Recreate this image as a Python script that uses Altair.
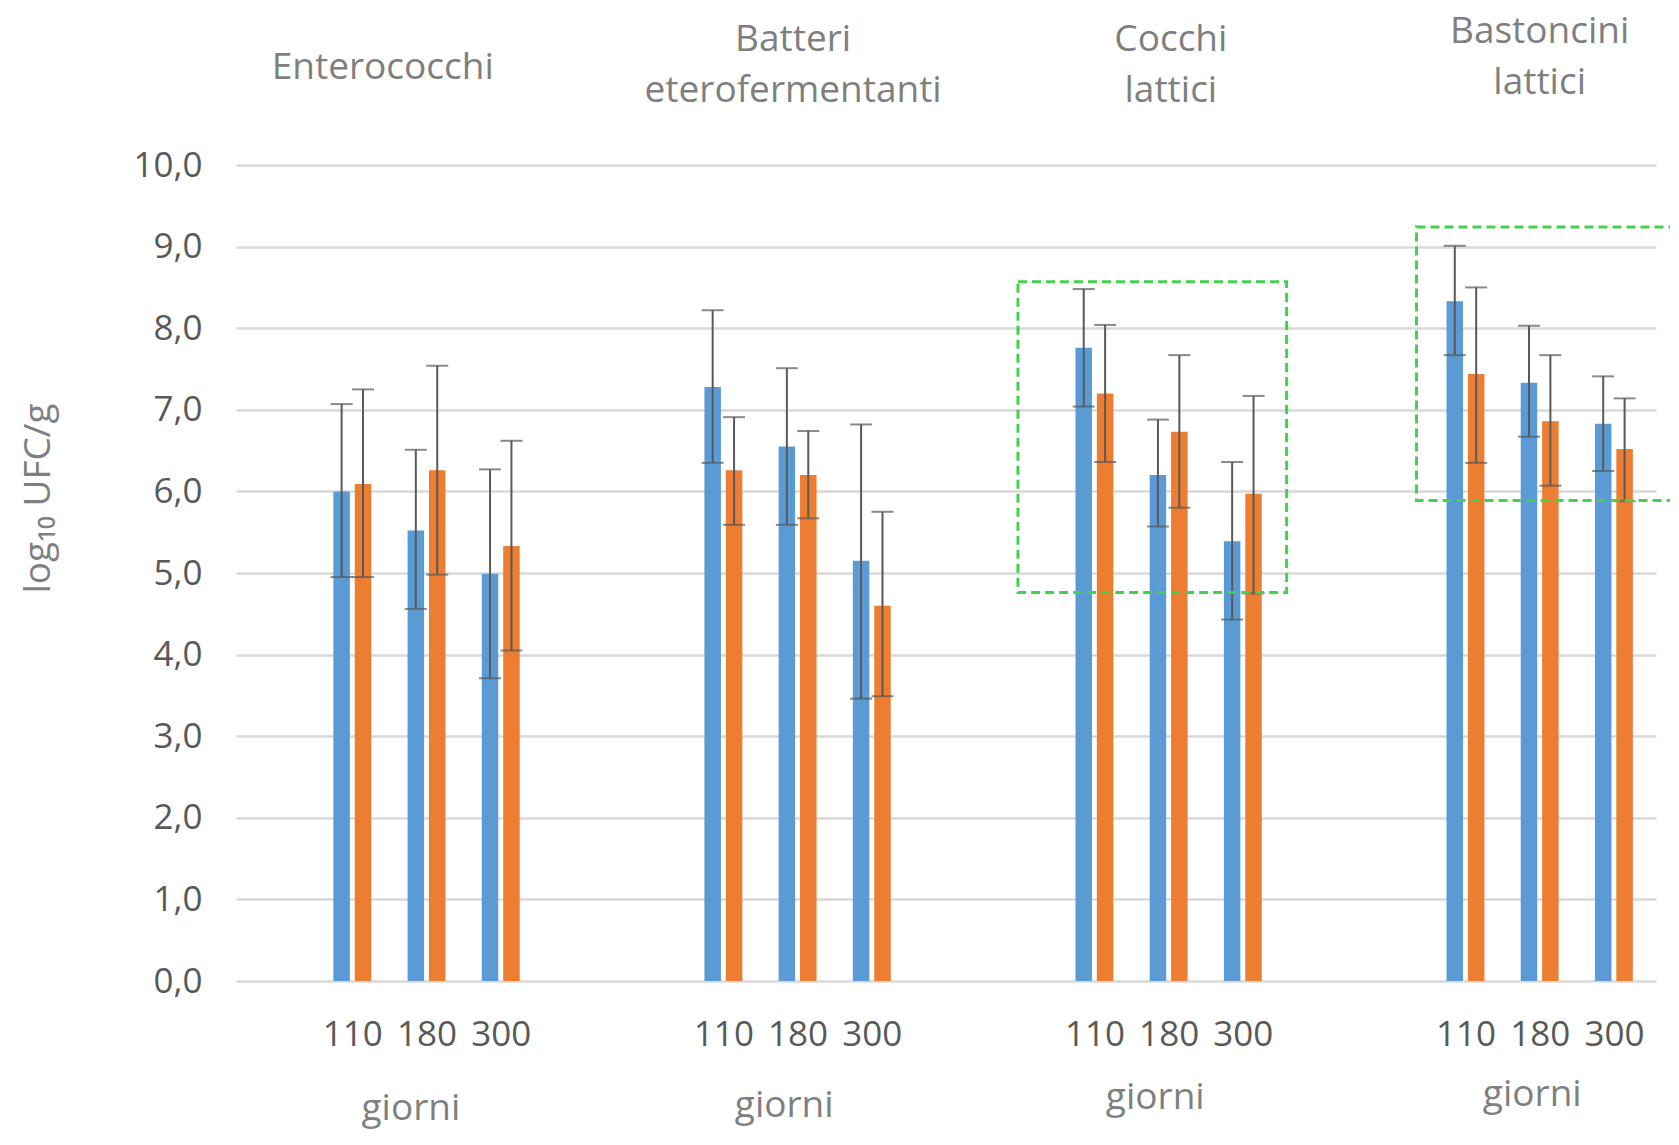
import altair as alt
import pandas as pd

# ---- data ----
categories = ["Enterococchi", "Batteri eterofermentanti", "Cocchi lattici", "Bastoncini lattici"]
category_lines = [["Enterococchi"], ["Batteri", "eterofermentanti"], ["Cocchi", "lattici"], ["Bastoncini", "lattici"]]
days = ["110", "180", "300"]
series_names = ["Serie 1", "Serie 2"]

# values listed group by group, day by day (110, 180, 300)
blue_values = [6.00, 5.52, 4.99, 7.28, 6.55, 5.15, 7.76, 6.20, 5.39, 8.33, 7.33, 6.83]
blue_upper = [7.07, 6.51, 6.27, 8.22, 7.51, 6.82, 8.48, 6.88, 6.36, 9.01, 8.03, 7.41]
blue_lower = [4.95, 4.56, 3.71, 6.35, 5.59, 3.46, 7.04, 5.57, 4.43, 7.67, 6.67, 6.25]
orange_values = [6.09, 6.26, 5.33, 6.26, 6.20, 4.60, 7.20, 6.73, 5.97, 7.44, 6.86, 6.52]
orange_upper = [7.25, 7.54, 6.62, 6.91, 6.74, 5.75, 8.04, 7.67, 7.17, 8.50, 7.67, 7.14]
orange_lower = [4.95, 4.98, 4.05, 5.59, 5.67, 3.49, 6.36, 5.80, 4.75, 6.35, 6.07, 5.88]

# highlighted regions (green dashed boxes), in axis units
box_x1 = [10.47, 15.84]
box_x2 = [14.09, 19.80]
box_y1 = [4.76, 5.89]
box_y2 = [8.57, 9.24]

# annotation label positions (slot units)
title_x = [1.91, 7.44, 12.53, 17.50]
giorni_x = [2.29, 7.32, 12.32, 17.40]

SLOTS_PER_GROUP = 5
N_SLOTS = 19

BLUE = "#5b9bd5"
ORANGE = "#ed7d31"
ERR = "#595959"
FONT = "Open Sans"

W, H = 1420, 816
PAD = {"left": 228, "top": 157, "right": 14, "bottom": 150}

rows = []
for gi, cat in enumerate(categories):
    for di, day in enumerate(days):
        k = gi * 3 + di
        slot = gi * SLOTS_PER_GROUP + 1 + di + 0.5
        rows.append({"cat": cat, "day": day, "slot": slot, "serie": series_names[0],
                     "v": blue_values[k], "lo": blue_lower[k], "hi": blue_upper[k]})
        rows.append({"cat": cat, "day": day, "slot": slot, "serie": series_names[1],
                     "v": orange_values[k], "lo": orange_lower[k], "hi": orange_upper[k]})
df = pd.DataFrame(rows)
df_b = df[df.serie == series_names[0]]
df_o = df[df.serie == series_names[1]]

tick_values = sorted(df.slot.unique().tolist())

xscale = alt.Scale(domain=[0, N_SLOTS], nice=False, zero=False)
yscale = alt.Scale(domain=[0, 10], nice=False)

x_axis = alt.Axis(values=tick_values,
                  labelExpr="['110','180','300'][(floor(datum.value) % 5) - 1]",
                  grid=False, domain=False, ticks=False, labelFont=FONT, labelFontSize=35,
                  labelColor="#595959", labelPadding=36, title=None, labelFlush=False)
y_axis = alt.Axis(values=list(range(0, 11)),
                  labelExpr="replace(format(datum.value, '.1f'), '.', ',')",
                  grid=True, gridColor="#d9d9d9", gridWidth=2.5, domain=False, ticks=False,
                  labelFont=FONT, labelFontSize=35, labelColor="#595959", labelPadding=34,
                  title="log₁₀ UFC/g", titleFont=FONT, titleFontSize=37, titleFontWeight="normal",
                  titleColor="#7f7f7f", titleX=-198, titleY=333, titleAngle=-90,
                  titleAlign="center", titleBaseline="middle")

OFF = 10.7
BW = 16.5

base_b = alt.Chart(df_b)
base_o = alt.Chart(df_o)

bars_b = base_b.mark_bar(size=BW, xOffset=-OFF, color=BLUE).encode(
    x=alt.X("slot:Q", scale=xscale, axis=x_axis),
    y=alt.Y("v:Q", scale=yscale, axis=y_axis),
)
bars_o = base_o.mark_bar(size=BW, xOffset=OFF, color=ORANGE).encode(
    x=alt.X("slot:Q", scale=xscale),
    y=alt.Y("v:Q", scale=yscale),
)

def err_layers(base, off):
    rule = base.mark_rule(xOffset=off, color=ERR, strokeWidth=2).encode(
        x=alt.X("slot:Q", scale=xscale), y=alt.Y("lo:Q", scale=yscale), y2="hi:Q")
    cap_hi = base.mark_tick(xOffset=off, color=ERR, orient="horizontal", size=22, thickness=2).encode(
        x=alt.X("slot:Q", scale=xscale), y=alt.Y("hi:Q", scale=yscale))
    cap_lo = base.mark_tick(xOffset=off, color=ERR, orient="horizontal", size=22, thickness=2).encode(
        x=alt.X("slot:Q", scale=xscale), y=alt.Y("lo:Q", scale=yscale))
    return rule + cap_hi + cap_lo

boxes_df = pd.DataFrame({"x1": box_x1, "x2": box_x2, "y1": box_y1, "y2": box_y2})
boxes = alt.Chart(boxes_df).mark_rect(fill=None, stroke="#44d14e", strokeWidth=3,
                                      strokeDash=[9, 5], clip=False).encode(
    x=alt.X("x1:Q", scale=xscale), x2="x2:Q",
    y=alt.Y("y1:Q", scale=yscale), y2="y2:Q")

# category titles above the plot (pixel offset of the first line's top from the plot top)
titles_df = pd.DataFrame({"x": title_x, "lines": category_lines,
                          "ypix": [-115, -143, -143, -151]})
titles = alt.Chart(titles_df).mark_text(font=FONT, fontSize=37, color="#7f7f7f",
                                        baseline="top", align="center", lineHeight=51).encode(
    x=alt.X("x:Q", scale=xscale), y=alt.Y("ypix:Q", scale=None), text="lines")

# "giorni" labels below the plot (baseline offset from the plot bottom)
giorni_df = pd.DataFrame({"x": giorni_x, "t": ["giorni"] * 4, "dy": [139, 136, 128, 125]})
giorni = alt.Chart(giorni_df).transform_calculate(yy=f"{H} + datum.dy").mark_text(
    font=FONT, fontSize=37, color="#7f7f7f", baseline="alphabetic", align="center").encode(
    x=alt.X("x:Q", scale=xscale), y=alt.Y("yy:Q", scale=None), text="t")

chart = alt.layer(
    bars_b, bars_o,
    err_layers(base_b, -OFF), err_layers(base_o, OFF),
    boxes, titles, giorni,
).properties(
    width=W, height=H,
    autosize=alt.AutoSizeParams(type="none"),
    padding=PAD,
).configure(background="white").configure_view(stroke=None)

chart.save("out.html", embed_options={"renderer": "svg", "actions": False})
